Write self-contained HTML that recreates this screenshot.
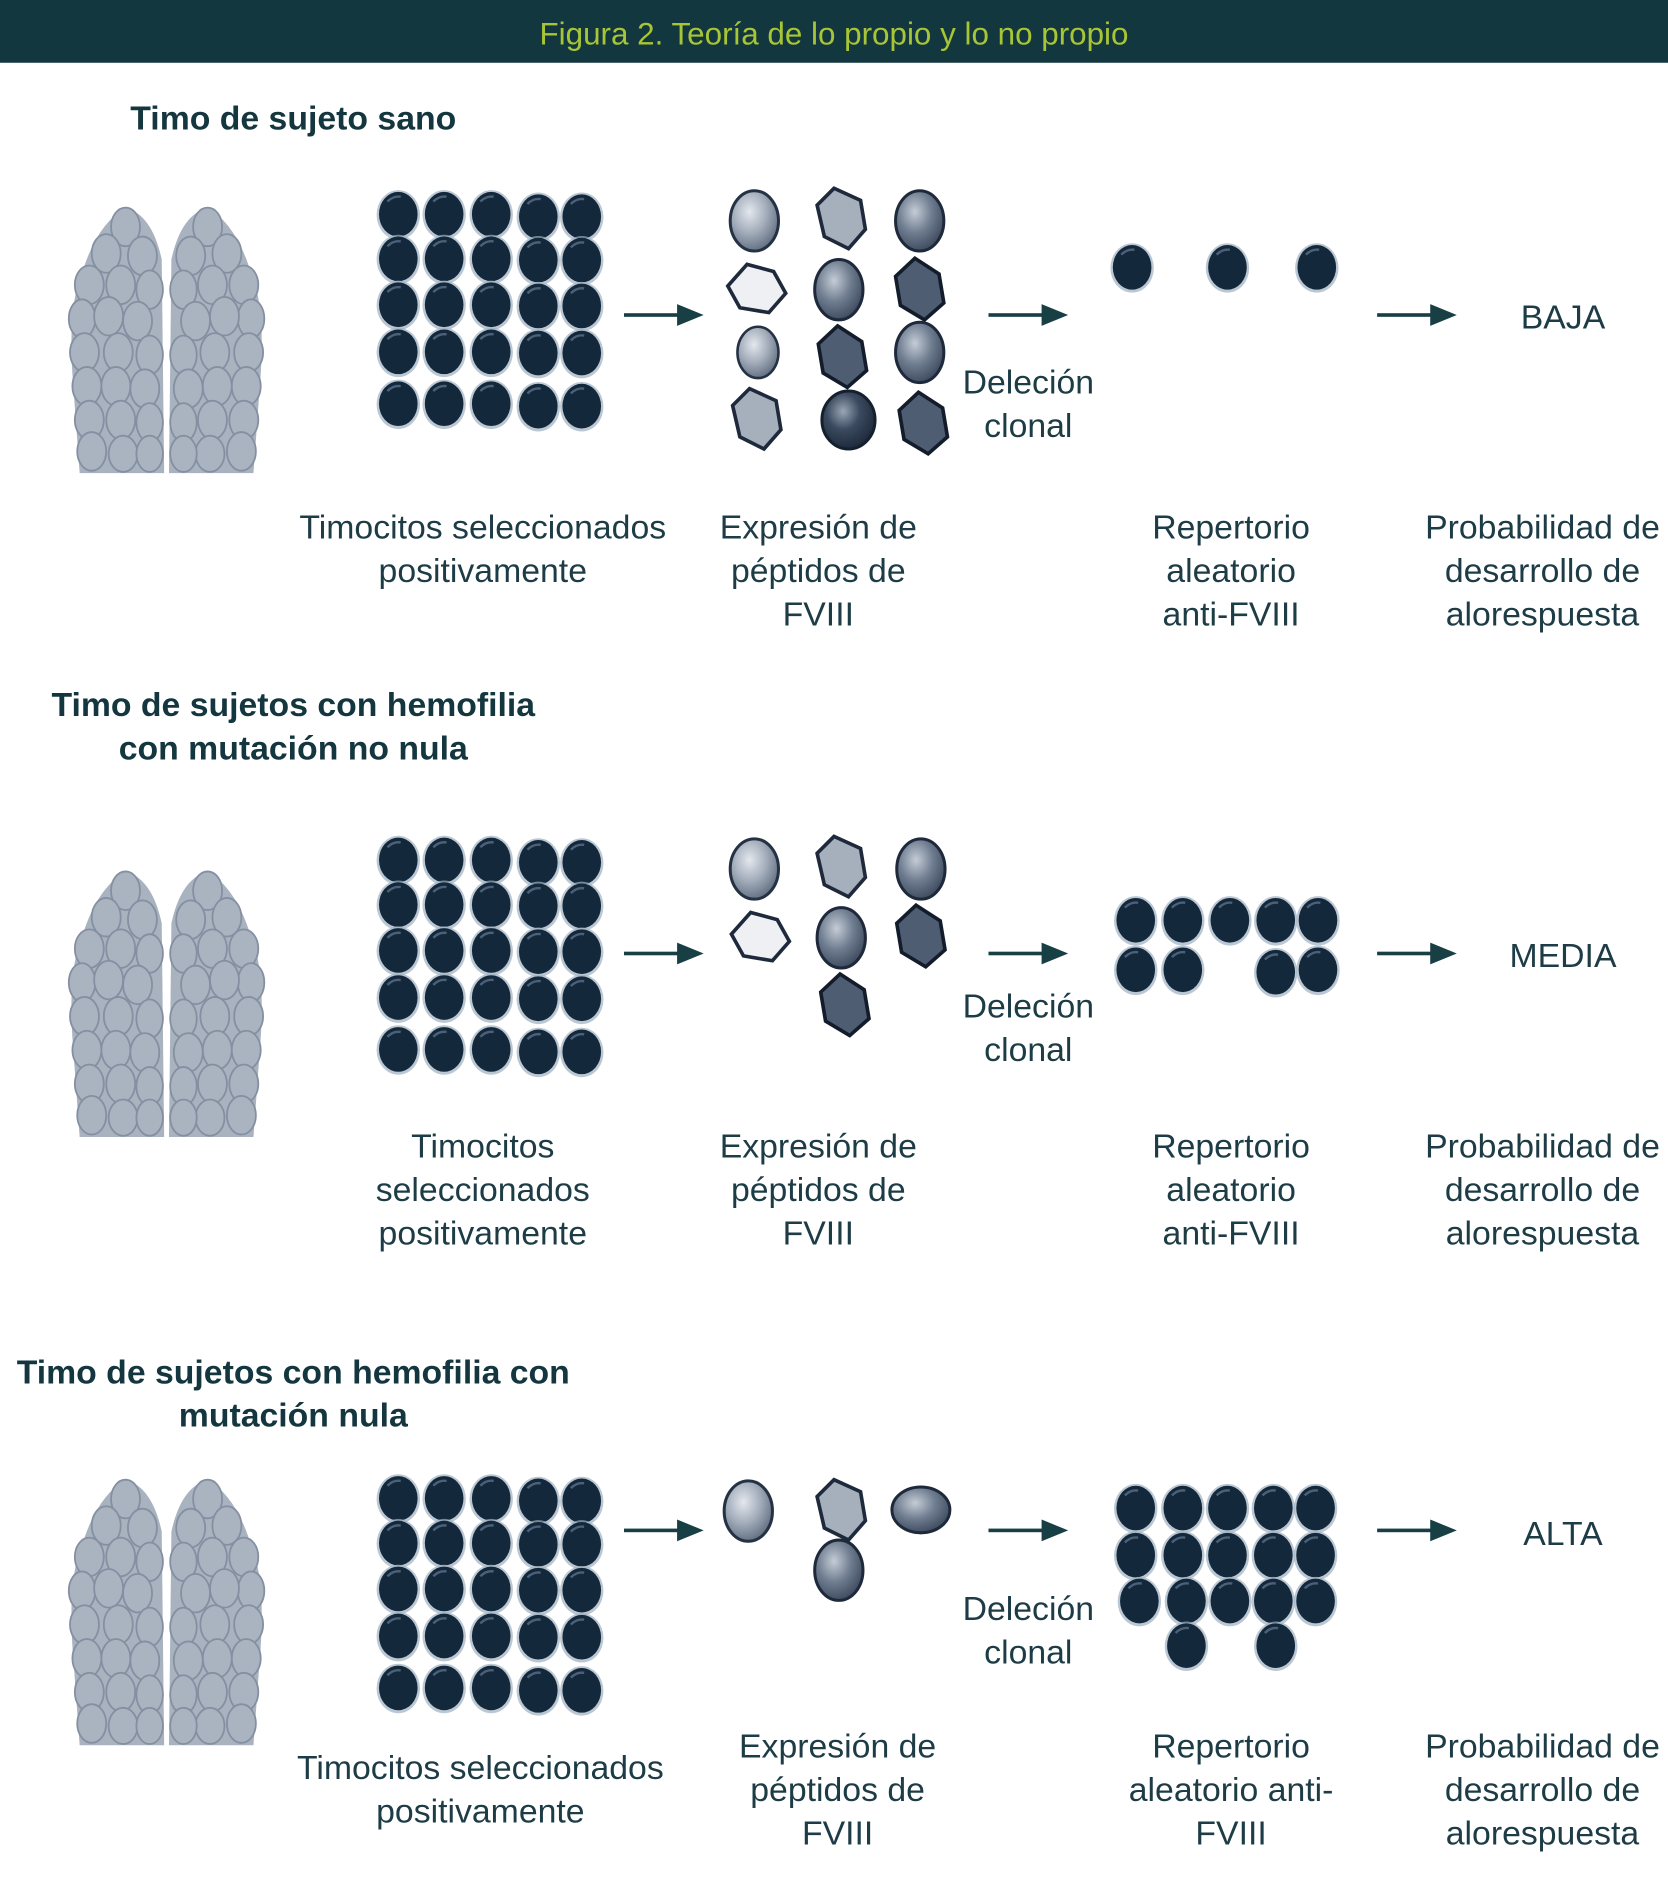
<!DOCTYPE html>
<html><head><meta charset="utf-8"><style>
html,body{margin:0;padding:0;background:#fff;}
svg{display:block;}
text{font-family:"Liberation Sans",sans-serif;fill:#1d3c46;}
</style></head><body>
<svg width="1668" height="1892" viewBox="0 0 1382 1567.6" preserveAspectRatio="none" xmlns="http://www.w3.org/2000/svg">
<defs>
<radialGradient id="gl" cx="0.4" cy="0.35" r="0.7"><stop offset="0" stop-color="#e4e8ee"/><stop offset="0.5" stop-color="#a3adbb"/><stop offset="1" stop-color="#5d6a7c"/></radialGradient>
<radialGradient id="gm" cx="0.4" cy="0.35" r="0.7"><stop offset="0" stop-color="#c4ccd6"/><stop offset="0.5" stop-color="#6f7d90"/><stop offset="1" stop-color="#3a4659"/></radialGradient>
<radialGradient id="gd" cx="0.4" cy="0.35" r="0.7"><stop offset="0" stop-color="#9aa6b6"/><stop offset="0.45" stop-color="#3b4a5f"/><stop offset="1" stop-color="#1b2638"/></radialGradient>
<g id="cell"><ellipse cx="0" cy="0" rx="18" ry="20.5" fill="#9eb0c2" opacity="0.7"/><ellipse cx="0" cy="-0.5" rx="16" ry="18.5" fill="#13283b"/><path d="M-9,-11 Q-4,-16 2,-15" stroke="#4c6178" stroke-width="2" fill="none"/></g>
<g id="sl"><ellipse rx="20" ry="25" fill="url(#gl)" stroke="#243244" stroke-width="2.5"/></g>
<g id="sm"><ellipse rx="20" ry="25" fill="url(#gm)" stroke="#1e2a3b" stroke-width="2.5"/></g>
<g id="sd"><ellipse rx="22" ry="24" fill="url(#gd)" stroke="#15202f" stroke-width="2.5"/></g>
<g id="hw"><polygon points="-8,-20 14,-14 24,4 10,20 -14,16 -24,-2" fill="#eef0f3" stroke="#1e2a3b" stroke-width="3"/></g>
<g id="hl"><polygon points="-6,-24 16,-14 20,10 6,26 -14,16 -20,-10" fill="#a6b0bd" stroke="#1e2a3b" stroke-width="3"/></g>
<g id="hd"><polygon points="-4,-25 16,-12 20,12 4,26 -16,14 -20,-10" fill="#4f5d72" stroke="#121c2a" stroke-width="3"/></g>
<g id="lobe">
<path d="M66,392 L60,310 Q56,250 70,220 Q82,185 104,172 Q126,178 134,215 L136,392 Z" fill="#a9b3c0"/>
<g fill="#aab4c1" stroke="#8490a1" stroke-width="1.5">
<ellipse cx="104" cy="188" rx="12" ry="16"/><ellipse cx="88" cy="210" rx="12" ry="16"/><ellipse cx="118" cy="212" rx="12" ry="16"/>
<ellipse cx="74" cy="236" rx="12" ry="16"/><ellipse cx="100" cy="236" rx="12" ry="16"/><ellipse cx="124" cy="240" rx="11" ry="16"/>
<ellipse cx="68" cy="264" rx="11" ry="16"/><ellipse cx="90" cy="262" rx="12" ry="16"/><ellipse cx="114" cy="266" rx="12" ry="16"/>
<ellipse cx="70" cy="292" rx="12" ry="16"/><ellipse cx="98" cy="292" rx="12" ry="16"/><ellipse cx="124" cy="294" rx="11" ry="16"/>
<ellipse cx="72" cy="320" rx="12" ry="16"/><ellipse cx="96" cy="320" rx="12" ry="16"/><ellipse cx="120" cy="322" rx="12" ry="16"/>
<ellipse cx="74" cy="348" rx="12" ry="16"/><ellipse cx="100" cy="348" rx="12" ry="16"/><ellipse cx="124" cy="350" rx="11" ry="16"/>
<ellipse cx="76" cy="374" rx="12" ry="16"/><ellipse cx="102" cy="376" rx="12" ry="15"/><ellipse cx="124" cy="376" rx="11" ry="15"/>
</g>
</g>
<g id="thy"><use href="#lobe"/><use href="#lobe" transform="translate(276,0) scale(-1,1)"/></g>
<g id="grid">
<use href="#cell" x="330" y="178"/><use href="#cell" x="368" y="178"/><use href="#cell" x="407" y="178"/><use href="#cell" x="446" y="180"/><use href="#cell" x="482" y="180"/>
<use href="#cell" x="330" y="215"/><use href="#cell" x="368" y="215"/><use href="#cell" x="407" y="215"/><use href="#cell" x="446" y="216"/><use href="#cell" x="482" y="216"/>
<use href="#cell" x="330" y="253"/><use href="#cell" x="368" y="253"/><use href="#cell" x="407" y="253"/><use href="#cell" x="446" y="254"/><use href="#cell" x="482" y="254"/>
<use href="#cell" x="330" y="292"/><use href="#cell" x="368" y="292"/><use href="#cell" x="407" y="292"/><use href="#cell" x="446" y="293"/><use href="#cell" x="482" y="293"/>
<use href="#cell" x="330" y="335"/><use href="#cell" x="368" y="335"/><use href="#cell" x="407" y="335"/><use href="#cell" x="446" y="337"/><use href="#cell" x="482" y="337"/>
</g>
<g id="arr" fill="#173f44"><rect x="0" y="-1.5" width="48" height="3"/><polygon points="44,-9 66,0 44,9"/></g>
</defs>

<rect x="0" y="0" width="1382" height="52" fill="#12373f"/>
<text x="691" y="28" text-anchor="middle" dominant-baseline="central" font-size="26" style="fill:#a8c536">Figura 2. Teoría de lo propio y lo no propio</text>

<g font-size="28" text-anchor="middle" dominant-baseline="central">
<text x="243" y="98" font-weight="bold" style="fill:#14363e">Timo de sujeto sano</text>
<use href="#thy"/>
<use href="#grid"/>
<use href="#arr" x="517" y="261"/><use href="#arr" x="819" y="261"/><use href="#arr" x="1141" y="261"/>
<use href="#sl" x="625" y="183"/><use href="#hl" x="697" y="180"/><use href="#sm" x="762" y="183"/>
<use href="#hw" x="627" y="239"/><use href="#sm" x="695" y="240"/><use href="#hd" x="762" y="239"/>
<use href="#sl" x="628" y="292" transform="translate(628,292) scale(0.85) translate(-628,-292)"/><use href="#hd" x="698" y="295"/><use href="#sm" x="762" y="292"/>
<use href="#hl" x="627" y="346"/><use href="#sd" x="703" y="348"/><use href="#hd" x="765" y="350"/>
<use href="#cell" x="938" y="222"/><use href="#cell" x="1017" y="222"/><use href="#cell" x="1091" y="222"/>
<text x="852" y="317">Deleción</text><text x="852" y="353">clonal</text>
<text x="1295" y="263">BAJA</text>
<text x="400" y="437">Timocitos seleccionados</text><text x="400" y="473">positivamente</text>
<text x="678" y="437">Expresión de</text><text x="678" y="473">péptidos de</text><text x="678" y="509">FVIII</text>
<text x="1020" y="437">Repertorio</text><text x="1020" y="473">aleatorio</text><text x="1020" y="509">anti-FVIII</text>
<text x="1278" y="437">Probabilidad de</text><text x="1278" y="473">desarrollo de</text><text x="1278" y="509">alorespuesta</text>

<text x="243" y="584" font-weight="bold" style="fill:#14363e">Timo de sujetos con hemofilia</text>
<text x="243" y="620" font-weight="bold" style="fill:#14363e">con mutación no nula</text>
<use href="#thy" y="550"/>
<use href="#grid" y="535"/>
<use href="#arr" x="517" y="790"/><use href="#arr" x="819" y="790"/><use href="#arr" x="1141" y="790"/>
<use href="#sl" x="625" y="720"/><use href="#hl" x="697" y="717"/><use href="#sm" x="763" y="720"/>
<use href="#hw" x="630" y="776"/><use href="#sm" x="697" y="777"/><use href="#hd" x="763" y="775"/>
<use href="#hd" x="700" y="832"/>
<use href="#cell" x="941" y="763"/><use href="#cell" x="980" y="763"/><use href="#cell" x="1019" y="763"/><use href="#cell" x="1057" y="763"/><use href="#cell" x="1092" y="763"/>
<use href="#cell" x="941" y="804"/><use href="#cell" x="980" y="804"/><use href="#cell" x="1057" y="806"/><use href="#cell" x="1092" y="804"/>
<text x="852" y="834">Deleción</text><text x="852" y="870">clonal</text>
<text x="1295" y="792">MEDIA</text>
<text x="400" y="950">Timocitos</text><text x="400" y="986">seleccionados</text><text x="400" y="1022">positivamente</text>
<text x="678" y="950">Expresión de</text><text x="678" y="986">péptidos de</text><text x="678" y="1022">FVIII</text>
<text x="1020" y="950">Repertorio</text><text x="1020" y="986">aleatorio</text><text x="1020" y="1022">anti-FVIII</text>
<text x="1278" y="950">Probabilidad de</text><text x="1278" y="986">desarrollo de</text><text x="1278" y="1022">alorespuesta</text>

<text x="243" y="1137" font-weight="bold" style="fill:#14363e">Timo de sujetos con hemofilia con</text>
<text x="243" y="1173" font-weight="bold" style="fill:#14363e">mutación nula</text>
<use href="#thy" y="1054"/>
<use href="#grid" y="1064"/>
<use href="#arr" x="517" y="1268"/><use href="#arr" x="819" y="1268"/><use href="#arr" x="1141" y="1268"/>
<use href="#sl" x="620" y="1252"/><use href="#hl" x="697" y="1250"/>
<ellipse cx="763" cy="1251" rx="24" ry="19" fill="url(#gm)" stroke="#1e2a3b" stroke-width="2.5"/>
<use href="#sm" x="695" y="1301"/>
<use href="#cell" x="941" y="1250"/><use href="#cell" x="980" y="1250"/><use href="#cell" x="1017" y="1250"/><use href="#cell" x="1055" y="1250"/><use href="#cell" x="1090" y="1250"/>
<use href="#cell" x="941" y="1289"/><use href="#cell" x="980" y="1289"/><use href="#cell" x="1017" y="1289"/><use href="#cell" x="1055" y="1289"/><use href="#cell" x="1090" y="1289"/>
<use href="#cell" x="944" y="1327"/><use href="#cell" x="983" y="1327"/><use href="#cell" x="1019" y="1327"/><use href="#cell" x="1055" y="1327"/><use href="#cell" x="1090" y="1327"/>
<use href="#cell" x="983" y="1364"/><use href="#cell" x="1057" y="1364"/>
<text x="852" y="1333">Deleción</text><text x="852" y="1369">clonal</text>
<text x="1295" y="1271">ALTA</text>
<text x="398" y="1465">Timocitos seleccionados</text><text x="398" y="1501">positivamente</text>
<text x="694" y="1447">Expresión de</text><text x="694" y="1483">péptidos de</text><text x="694" y="1519">FVIII</text>
<text x="1020" y="1447">Repertorio</text><text x="1020" y="1483">aleatorio anti-</text><text x="1020" y="1519">FVIII</text>
<text x="1278" y="1447">Probabilidad de</text><text x="1278" y="1483">desarrollo de</text><text x="1278" y="1519">alorespuesta</text>
</g>
</svg>
</body></html>
